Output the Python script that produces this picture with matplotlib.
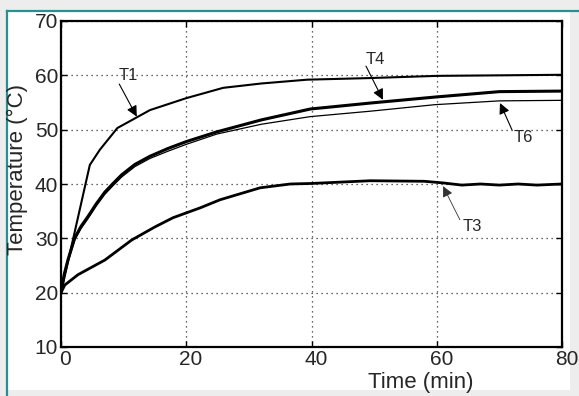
import numpy as np
import matplotlib.pyplot as plt
import matplotlib.transforms as mtransforms
from matplotlib.patches import Rectangle
from matplotlib.lines import Line2D

plt.rcParams['font.family'] = ['Liberation Sans', 'DejaVu Sans']

# 数据
t1 = [0, 1.9, 4.6, 6.2, 9, 14.2, 20, 25.9, 32, 39.3, 49.4, 60, 70, 80]
T1 = [20, 29.7, 43.5, 46.3, 50.3, 53.6, 55.8, 57.7, 58.5, 59.2, 59.5, 59.9, 60.0, 60.1]

t4 = [0, 0.5, 1.1, 2.2, 3.2, 4.3, 5.6, 7, 8.4, 9.7, 11.8, 14.2, 17, 20, 24.9, 32, 39.8, 49.4, 59.7, 70, 80]
T4 = [20, 23.3, 26.0, 30.1, 32.2, 34.0, 36.3, 38.5, 40.2, 41.7, 43.6, 45.1, 46.5, 47.8, 49.6, 51.8, 53.8, 54.9, 56.0, 57.0, 57.1]

t6 = [0, 0.5, 1.1, 2.2, 3.2, 4.3, 5.6, 7, 8.4, 9.7, 11.8, 14.2, 17, 20, 24.9, 32, 39.8, 49.4, 59.7, 70, 80]
T6 = [20, 23.0, 25.6, 29.7, 31.8, 33.6, 35.9, 38.1, 39.8, 41.3, 43.2, 44.7, 46.0, 47.3, 49.2, 51.0, 52.4, 53.4, 54.6, 55.3, 55.4]

t3 = [0, 0.6, 2.7, 7, 11.3, 15, 17.9, 22.2, 25.4, 31.8, 36.6, 40, 49.4, 58, 61, 64, 67, 70, 73, 76, 80]
T3 = [20, 21.4, 23.3, 26.0, 29.7, 32.1, 33.8, 35.6, 37.1, 39.3, 40.0, 40.1, 40.6, 40.5, 40.2, 39.8, 40.0, 39.8, 40.0, 39.8, 40.0]

fig = plt.figure(figsize=(5.79, 3.96), dpi=100, facecolor='#ededed')

# 白色面板 + 青色边框
fig.patches.append(Rectangle((7/579, 6/396), 563/579, 379/396, transform=fig.transFigure,
                             facecolor='white', edgecolor='none', zorder=-10))
fig.lines.append(Line2D([7/579, 7/579], [0, 1 - 11/396], transform=fig.transFigure,
                        color='#2a8f8f', lw=1.6, zorder=-5))
fig.lines.append(Line2D([7/579, 1], [1 - 11/396, 1 - 11/396], transform=fig.transFigure,
                        color='#2a8f8f', lw=1.6, zorder=-5))

ax = fig.add_axes([61/579, 1 - 347/396, 501/579, 326/396])
ax.plot(t1, T1, color='k', lw=1.5)
ax.plot(t4, T4, color='k', lw=2.2)
ax.plot(t6, T6, color='k', lw=0.9)
ax.plot(t3, T3, color='k', lw=2.0)

ax.set_xlim(0, 80)
ax.set_ylim(10, 70)
ax.set_xticks([0, 20, 40, 60, 80])
ax.set_yticks([10, 20, 30, 40, 50, 60, 70])
ax.tick_params(direction='in', length=4, width=1, top=True, right=True,
               labelsize=15, labelcolor='#262626', pad=2)
ax.grid(True, linestyle=(0, (1, 3)), color='#333333', lw=0.9)
for sp in ax.spines.values():
    sp.set_linewidth(1.6)

# x 刻度标签略向右偏
shift = mtransforms.ScaledTranslation(4.5/100, 0, fig.dpi_scale_trans)
for lab in ax.get_xticklabels():
    lab.set_transform(lab.get_transform() + shift)

ax.set_xlabel('Time (min)', fontsize=16, color='#262626')
ax.set_ylabel('Temperature (°C)', fontsize=16, color='#262626')
ax.xaxis.set_label_coords(0.719, -0.078)
ax.yaxis.set_label_coords(-0.066, 0.543)

arrow = dict(arrowstyle='-|>', color='k', lw=0.8, mutation_scale=16, shrinkA=0, shrinkB=0)
ax.annotate('', xy=(12.1, 52.4), xytext=(9.3, 58.4), arrowprops=arrow)
ax.text(10.7, 60.0, 'T1', fontsize=12, ha='center', va='center', color='#262626')
ax.annotate('', xy=(51.4, 55.5), xytext=(48.7, 61.7), arrowprops=arrow)
ax.text(50.2, 62.9, 'T4', fontsize=12, ha='center', va='center', color='#262626')
ax.annotate('', xy=(70.1, 54.9), xytext=(72.0, 50.0), arrowprops=arrow)
ax.text(73.8, 48.5, 'T6', fontsize=12, ha='center', va='center', color='#262626')
ax.annotate('', xy=(61.0, 39.6), xytext=(63.7, 33.4),
            arrowprops=dict(arrow, lw=0.6, color='#333333'))
ax.text(65.7, 32.1, 'T3', fontsize=12, ha='center', va='center', color='#262626')

fig.savefig('out.png', dpi=100, facecolor=fig.get_facecolor())
